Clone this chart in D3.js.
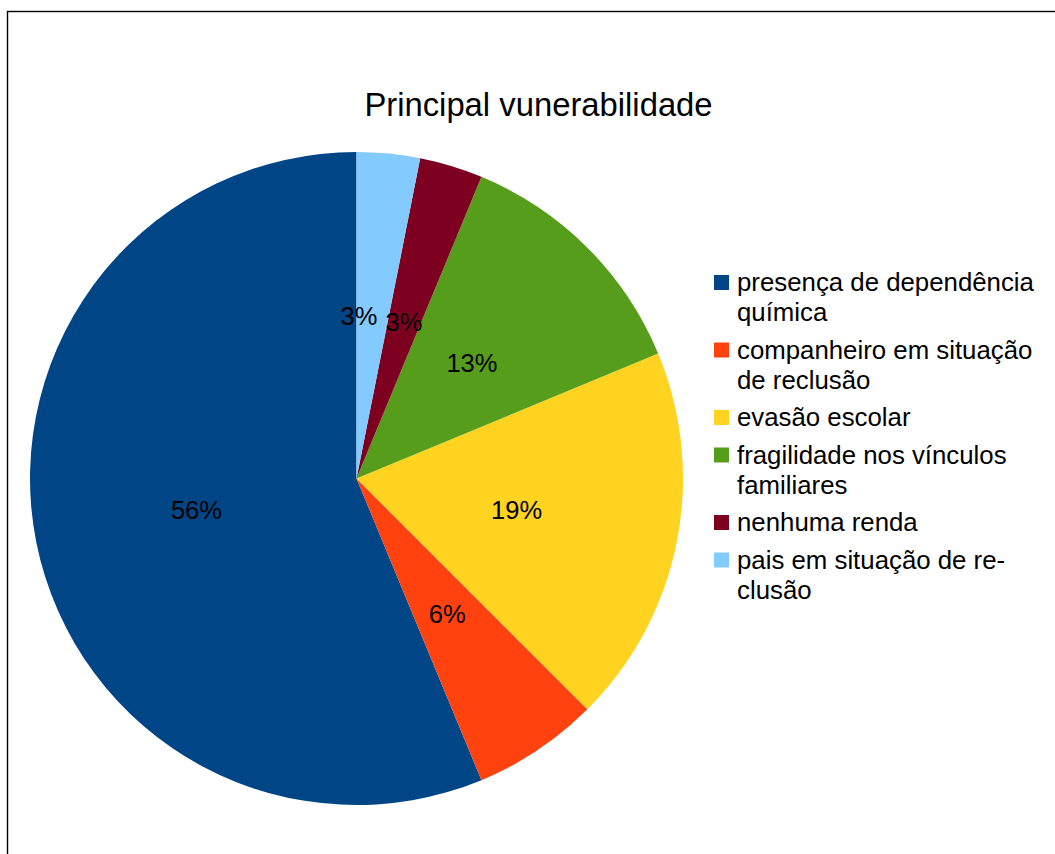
<!DOCTYPE html>
<html>
<head>
<meta charset="utf-8">
<script src="https://cdn.jsdelivr.net/npm/d3@7"></script>
<style>
  html, body { margin: 0; padding: 0; background: #fff; }
  svg { display: block; }
  text { font-family: "Liberation Sans", Arial, sans-serif; fill: #000; }
</style>
</head>
<body>
<svg id="chart" width="1055" height="854"></svg>
<script>
// ---- data ----
const title = "Principal vunerabilidade";
const categories = [
  "presença de dependência química",
  "companheiro em situação de reclusão",
  "evasão escolar",
  "fragilidade nos vínculos familiares",
  "nenhuma renda",
  "pais em situação de reclusão"
];
const legendLines = [
  ["presença de dependência", "química"],
  ["companheiro em situação", "de reclusão"],
  ["evasão escolar"],
  ["fragilidade nos vínculos", "familiares"],
  ["nenhuma renda"],
  ["pais em situação de re-", "clusão"]
];
const values = [18, 2, 6, 4, 1, 1];
const colors = ["#004586", "#ff420e", "#ffd320", "#579d1c", "#7e0021", "#83caff"];

// ---- layout ----
const svg = d3.select("#chart");
const W = 1055, H = 854;
const cx = 356.5, cy = 478.5, R = 326.5;

// frame
svg.append("rect")
  .attr("x", 7.5).attr("y", 11.5)
  .attr("width", W + 20).attr("height", H + 20)
  .attr("fill", "#fff").attr("stroke", "#000").attr("stroke-width", 1.4);

// title
svg.append("text")
  .attr("x", 538.5).attr("y", 116)
  .attr("text-anchor", "middle")
  .style("font-size", "32.8px")
  .text(title);

const total = d3.sum(values);
const pie = d3.pie().sort(null).value(d => d).startAngle(0).endAngle(-2 * Math.PI);
const arcs = pie(values);
const arc = d3.arc().innerRadius(0).outerRadius(R);
const labelArc = d3.arc().innerRadius(R / 2).outerRadius(R / 2);

const g = svg.append("g").attr("transform", `translate(${cx},${cy})`);
g.selectAll("path.slice")
  .data(arcs)
  .join("path")
  .attr("class", "slice")
  .attr("d", arc)
  .attr("fill", (d, i) => colors[i]);

// labels with simple overlap avoidance
const fmt = v => Math.round(v / total * 100) + "%";
const labels = g.selectAll("text.lbl")
  .data(arcs)
  .join("text")
  .attr("class", "lbl")
  .attr("text-anchor", "middle")
  .attr("dy", "0.35em")
  .style("font-size", "25.5px")
  .text(d => fmt(d.value))
  .each(function (d) {
    const c = labelArc.centroid(d);
    d.lx = c[0]; d.ly = c[1];
  })
  .attr("x", d => d.lx).attr("y", d => d.ly);

const nodes = labels.nodes();
const boxes = nodes.map(n => n.getBBox());
for (let i = 1; i < nodes.length; i++) {
  const b = boxes[i], p = boxes[i - 1];
  const overlapX = Math.min(b.x + b.width, p.x + p.width) - Math.max(b.x, p.x);
  const overlapY = Math.min(b.y + b.height, p.y + p.height) - Math.max(b.y, p.y);
  if (overlapX > 0 && overlapY > 0) {
    const shift = (b.x + b.width) - p.x + 8;
    const d = d3.select(nodes[i]).datum();
    d.lx -= shift;
    d3.select(nodes[i]).attr("x", d.lx);
    boxes[i] = nodes[i].getBBox();
  }
}

// legend
const legend = svg.append("g");
const lineH = 30, itemGap = 7.5;
let baseY = 291;
categories.forEach((cat, i) => {
  const lines = legendLines[i];
  legend.append("rect")
    .attr("x", 714).attr("y", baseY - 16)
    .attr("width", 15).attr("height", 15)
    .attr("fill", colors[i]);
  const t = legend.append("text")
    .attr("x", 737).attr("y", baseY)
    .style("font-size", "25.8px");
  lines.forEach((ln, j) => {
    t.append("tspan").attr("x", 737).attr("dy", j === 0 ? 0 : lineH).text(ln);
  });
  baseY += lines.length * lineH + itemGap;
});
</script>
</body>
</html>
